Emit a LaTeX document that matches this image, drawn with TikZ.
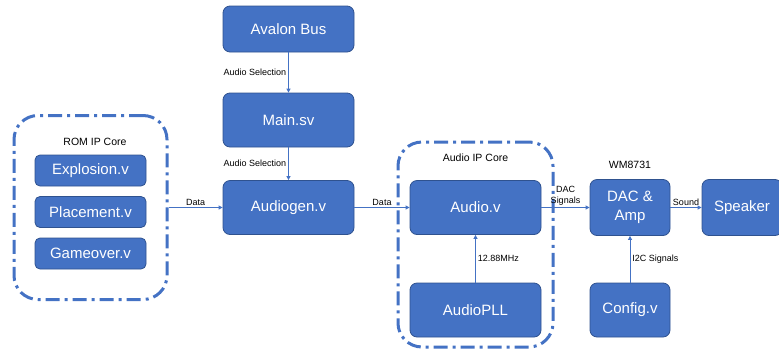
\documentclass[tikz,border=0pt]{standalone}
\usepackage{fontspec}
\setmainfont{Liberation Sans}
\usetikzlibrary{arrows.meta,positioning,calc}
\definecolor{blockfill}{HTML}{4472C4}
\definecolor{blockedge}{HTML}{2F528F}
\definecolor{linkblue}{HTML}{4472C4}

\begin{document}
\begin{tikzpicture}[
  x=1pt, y=-1pt,
  >={Triangle[length=4pt,width=4pt]},
  block/.style={rectangle, draw=blockedge, fill=blockfill, line width=0.8pt, rounded corners=7pt, minimum width=131pt, minimum height=54pt, inner sep=0pt, align=center, text=white, font=\fontsize{15}{19}\selectfont},
  romblock/.style={block, rounded corners=5pt, minimum width=111pt, minimum height=31pt},
  core/.style={rectangle, draw=linkblue, line width=3pt, rounded corners=24pt, dash pattern=on 14pt off 5pt on 3pt off 5pt},
  flow/.style={->, draw=linkblue, line width=0.8pt},
  tag/.style={font=\fontsize{9}{11}\selectfont, inner sep=2pt, align=center},
  title/.style={font=\fontsize{10.5}{12}\selectfont}
]
  \useasboundingbox (0,0) rectangle (779,349);

  % ROM group
  \node[core, minimum width=153pt, minimum height=184pt] (romcore) at (90.5,207.5) {};
  \node[title] (romtitle) at (95,142) {ROM IP Core};
  \node[romblock] (explosion) at (90.5,170.5) {Explosion.v};
  \node[romblock] (placement) at (90.5,212) {Placement.v};
  \node[romblock] (gameover) at (90.5,253.5) {Gameover.v};

  \node[block, minimum height=46pt] (avalon) at (288.5,29) {Avalon Bus};
  \node[block] (mainsv) at (288.5,120) {Main.sv};
  \node[block] (audiogen) at (288.5,207.5) {Audiogen.v};

  % Audio group
  \node[core, minimum width=155pt, minimum height=205pt] (audiocore) at (475.5,244.5) {};
  \node[title] (audiotitle) at (475.5,158) {Audio IP Core};
  \node[block] (audiov) at (475.5,207.5) {Audio.v};
  \node[block] (audiopll) at (475.5,310) {AudioPLL};

  \node[block, minimum width=80pt, minimum height=56pt] (dacamp) at (630,207.5) {DAC \&\\Amp};
  \node[title, above=7pt of dacamp] (wmtitle) {WM8731};
  \node[block, minimum width=80pt, minimum height=56pt] (speaker) at (742,207.5) {Speaker};
  \node[block, minimum width=80pt] (config) at (630,310) {Config.v};

  \draw[flow] (avalon) -- node[tag, left] {Audio Selection} (mainsv);
  \draw[flow] (mainsv) -- node[tag, left] {Audio Selection} (audiogen);
  \draw[flow] (romcore.east) -- node[tag, above] {Data} (audiogen);
  \draw[flow] (audiogen) -- node[tag, above] {Data} (audiov);
  \draw[flow] (audiov) -- node[tag, above] {DAC\\Signals} (dacamp);
  \draw[flow] (dacamp) -- node[tag, above] {Sound} (speaker);
  \draw[flow] (audiopll) -- node[tag, right] {12.88MHz} (audiov);
  \draw[flow] (config) -- node[tag, right] {I2C Signals} (dacamp);
\end{tikzpicture}
\end{document}
